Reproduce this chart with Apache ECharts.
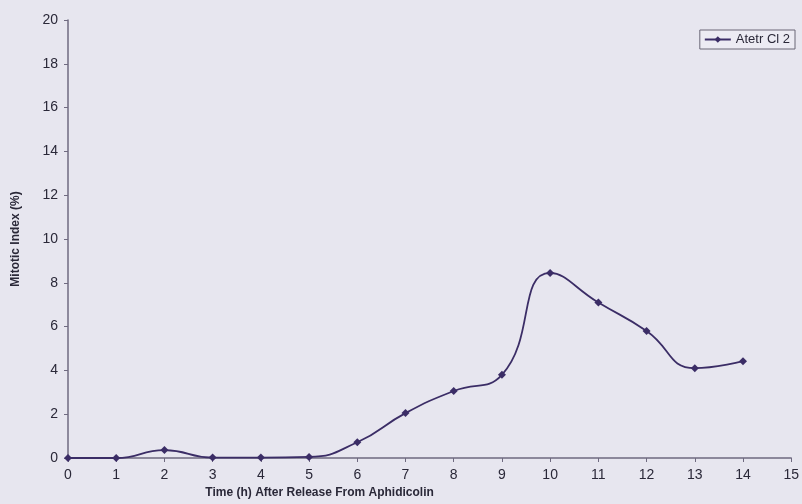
<!doctype html>
<html>
    <head>
        <meta charset="utf-8">
        <style>
            html, body { margin: 0; padding: 0; background: #e7e6ef; }
            #main { width: 802px; height: 504px; }
        </style>
    </head>
    <body>
        <div id="main"></div>
        <script src="https://cdn.jsdelivr.net/npm/echarts@6/dist/echarts.min.js"></script>
        <script>
            var hours = [0, 1, 2, 3, 4, 5, 6, 7, 8, 9, 10, 11, 12, 13, 14];
            var mitoticIndex = [0, 0, 0.36, 0.02, 0.02, 0.05, 0.72, 2.05, 3.06, 3.8, 8.45, 7.1, 5.8, 4.1, 4.42];
            var seriesName = 'Atetr Cl 2';

            var lineColor = '#3b2d66';
            var axisColor = '#6f6a80';

            var chart = echarts.init(document.getElementById('main'));

            var data = [];
            for (var i = 0; i < hours.length; i++) {
                data.push([hours[i], mitoticIndex[i]]);
            }

            chart.setOption({
                backgroundColor: '#e7e6ef',
                animation: false,
                textStyle: { fontFamily: 'Liberation Sans, Arial, sans-serif' },
                grid: { left: 68, right: 8, top: 20, bottom: 46 },
                legend: {
                    right: 7, top: 30,
                    data: [seriesName],
                    backgroundColor: '#ecebf3',
                    borderColor: '#6a6676',
                    borderWidth: 1,
                    borderRadius: 0,
                    padding: [3, 5, 3, 4],
                    itemWidth: 26, itemHeight: 8,
                    textStyle: { color: '#2a2838', fontSize: 13 }
                },
                xAxis: {
                    type: 'value',
                    min: 0, max: 15, interval: 1,
                    name: 'Time (h) After Release From Aphidicolin',
                    nameLocation: 'middle',
                    nameGap: 22,
                    nameTextStyle: { color: '#2a2838', fontSize: 12, fontWeight: 'bold', padding: [0, 0, 0, -220] },
                    axisLine: { lineStyle: { color: axisColor, width: 1.5 } },
                    axisTick: { show: true, inside: false, length: 4, lineStyle: { color: axisColor } },
                    axisLabel: { color: '#2a2838', fontSize: 14, margin: 10 },
                    splitLine: { show: false }
                },
                yAxis: {
                    type: 'value',
                    min: 0, max: 20, interval: 2,
                    name: 'Mitotic Index (%)',
                    nameLocation: 'middle',
                    nameGap: 46,
                    nameTextStyle: { color: '#2a2838', fontSize: 12, fontWeight: 'bold' },
                    axisLine: { show: true, lineStyle: { color: axisColor, width: 1.5 } },
                    axisTick: { show: true, length: 4, lineStyle: { color: axisColor } },
                    axisLabel: { color: '#2a2838', fontSize: 14, margin: 10 },
                    splitLine: { show: false }
                },
                series: [{
                    name: seriesName,
                    type: 'line',
                    data: data,
                    smooth: 0.5,
                    symbol: 'diamond',
                    symbolSize: 8,
                    itemStyle: { color: lineColor },
                    lineStyle: { color: lineColor, width: 1.8 }
                }]
            });

            window.addEventListener('resize', function () {
                chart.resize();
            });
        </script>
    </body>
</html>
